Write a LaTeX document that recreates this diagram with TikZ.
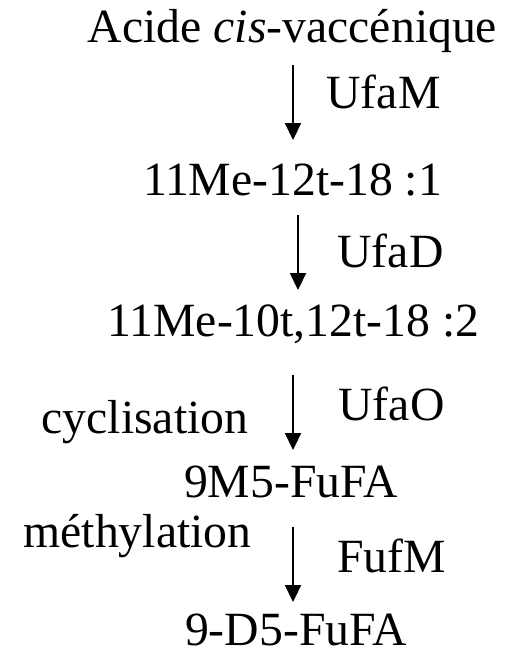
\documentclass[tikz,border=0pt]{standalone}
\usepackage{fontspec}
\setmainfont{Liberation Serif}
\usetikzlibrary{arrows.meta}
\begin{document}
\begin{tikzpicture}[x=1pt,y=-1pt,
  lbl/.style={anchor=base,inner sep=0pt,font=\fontsize{47.7pt}{50pt}\selectfont},
  arr/.style={line width=2.2pt,-{Triangle[width=16pt,length=17pt]}}]
\useasboundingbox (0,0) rectangle (515,653);
\node[lbl] (l1) at (292.5,42) {Acide \textit{cis}-vaccénique};
\node[lbl] (e1) at (383.5,108) {UfaM};
\node[lbl] (l2) at (292.5,195) {11Me-12t-18 :1};
\node[lbl] (e2) at (390.5,267) {UfaD};
\node[lbl] (l3) at (293.5,336) {11Me-10t,12t-18 :2};
\node[lbl] (e3) at (391.5,420) {UfaO};
\node[lbl] (c3) at (145,433) {cyclisation};
\node[lbl] (l4) at (291,497) {9M5-FuFA};
\node[lbl] (c4) at (137.5,547) {méthylation};
\node[lbl] (e4) at (391.5,572) {FufM};
\node[lbl] (l5) at (296,645) {9-D5-FuFA};
\coordinate (a1s) at (293,65);  \coordinate (a1e) at (293,140);
\coordinate (a2s) at (298,215); \coordinate (a2e) at (298,290);
\coordinate (a3s) at (293,375); \coordinate (a3e) at (293,450);
\coordinate (a4s) at (293,527); \coordinate (a4e) at (293,602);
\draw[arr] (a1s) -- (a1e);
\draw[arr] (a2s) -- (a2e);
\draw[arr] (a3s) -- (a3e);
\draw[arr] (a4s) -- (a4e);
\end{tikzpicture}
\end{document}
